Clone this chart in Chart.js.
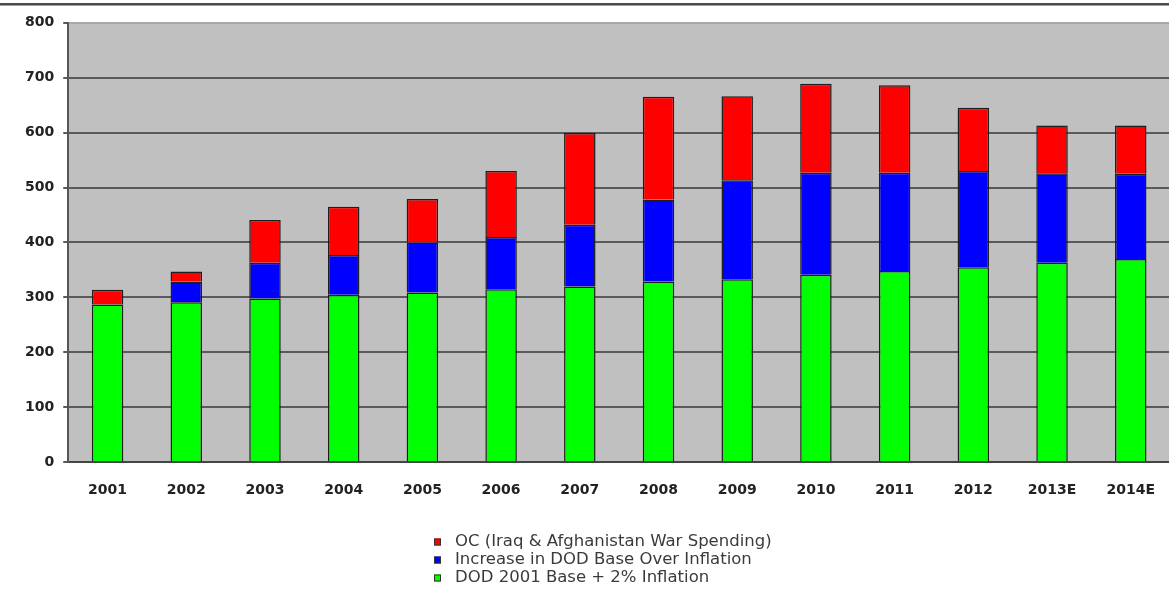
<!DOCTYPE html>
<html>
<head>
<meta charset="utf-8">
<script src="https://cdn.jsdelivr.net/npm/chart.js@4.4.1/dist/chart.umd.min.js"></script>
<style>
  html, body { margin: 0; padding: 0; background: #fff; overflow: hidden; }
  #wrap { width: 1175px; height: 608px; position: relative; }
</style>
</head>
<body>
<div id="wrap"><canvas id="dodChart"></canvas></div>
<script>
// values (billions)
const years = ['2001', '2002', '2003', '2004', '2005', '2006', '2007',
  '2008', '2009', '2010', '2011', '2012', '2013E', '2014E'];
const baseInflation = [287, 291, 298, 305, 309, 315, 320, 329, 333, 341, 348, 355, 363, 370];
const baseIncrease = [0, 38, 65, 72, 91, 95, 112, 149, 180, 186, 179, 175, 163, 155];
const warSpending = [27, 18, 78, 88, 79, 120, 167, 187, 153, 162, 159, 115, 87, 88];
const yTicks = [0, 100, 200, 300, 400, 500, 600, 700, 800];

// grey plot background + rule across the top of the page
const backdrop = {
  id: 'backdrop',
  beforeDraw(chart) {
    const { ctx, chartArea: a } = chart;
    ctx.save();
    ctx.fillStyle = '#c0c0c0';
    ctx.fillRect(a.left, a.top, a.right - a.left, a.bottom - a.top);
    ctx.fillStyle = '#4a4a4a';
    ctx.fillRect(0, 3, chart.width, 2);
    ctx.fillStyle = '#a0a0a0';
    ctx.fillRect(0, 5, chart.width, 1);
    ctx.restore();
  }
};

// stacked list legend under the axis, top series first
const listLegend = {
  id: 'listLegend',
  afterDraw(chart) {
    const { ctx } = chart;
    const items = chart.data.datasets.slice().reverse();
    ctx.save();
    ctx.font = '16.5px "DejaVu Sans"';
    ctx.textBaseline = 'middle';
    items.forEach((ds, i) => {
      const y = 542 + i * 18;
      ctx.fillStyle = ds.backgroundColor;
      ctx.fillRect(434, y - 3.5, 7, 7);
      ctx.strokeStyle = '#333';
      ctx.lineWidth = 1;
      ctx.strokeRect(434.5, y - 3, 6, 6);
      ctx.fillStyle = '#3a3a3a';
      ctx.fillText(ds.label, 455, y);
    });
    ctx.restore();
  }
};

const ctx = document.getElementById('dodChart').getContext('2d');
new Chart(ctx, {
  type: 'bar',
  data: {
    labels: years,
    datasets: [
      { label: 'DOD 2001 Base + 2% Inflation', data: baseInflation, backgroundColor: '#00ff00' },
      { label: 'Increase in DOD Base Over Inflation', data: baseIncrease, backgroundColor: '#0000ff' },
      { label: 'OC (Iraq & Afghanistan War Spending)', data: warSpending, backgroundColor: '#ff0000' }
    ].map(ds => Object.assign(ds, {
      borderColor: '#1e1e1e',
      borderWidth: 1.5,
      barPercentage: 0.4,
      categoryPercentage: 1
    }))
  },
  options: {
    responsive: true,
    maintainAspectRatio: false,
    animation: false,
    layout: {
      padding: { top: 22.7, left: 16, right: 0, bottom: 89 }
    },
    scales: {
      x: {
        stacked: true,
        grid: { display: false, drawTicks: false },
        border: { display: true, color: '#444', width: 2 },
        ticks: {
          padding: 20,
          color: '#222',
          font: { family: '"DejaVu Sans"', size: 14, weight: 'bold' }
        }
      },
      y: {
        stacked: true,
        min: 0,
        max: 800,
        afterBuildTicks(axis) {
          axis.ticks = yTicks.map(v => ({ value: v }));
        },
        grid: {
          color: c => (c.tick && c.tick.value === 800 ? '#a8a8a8' : '#5a5a5a'),
          lineWidth: 2,
          tickLength: 5,
          tickColor: '#5a5a5a'
        },
        border: { display: true, color: '#555', width: 2 },
        ticks: {
          padding: 9,
          color: '#222',
          font: { family: '"DejaVu Sans"', size: 14, weight: 'bold' }
        }
      }
    },
    plugins: {
      legend: { display: false },
      tooltip: { enabled: false }
    }
  },
  plugins: [backdrop, listLegend]
});
</script>
</body>
</html>
